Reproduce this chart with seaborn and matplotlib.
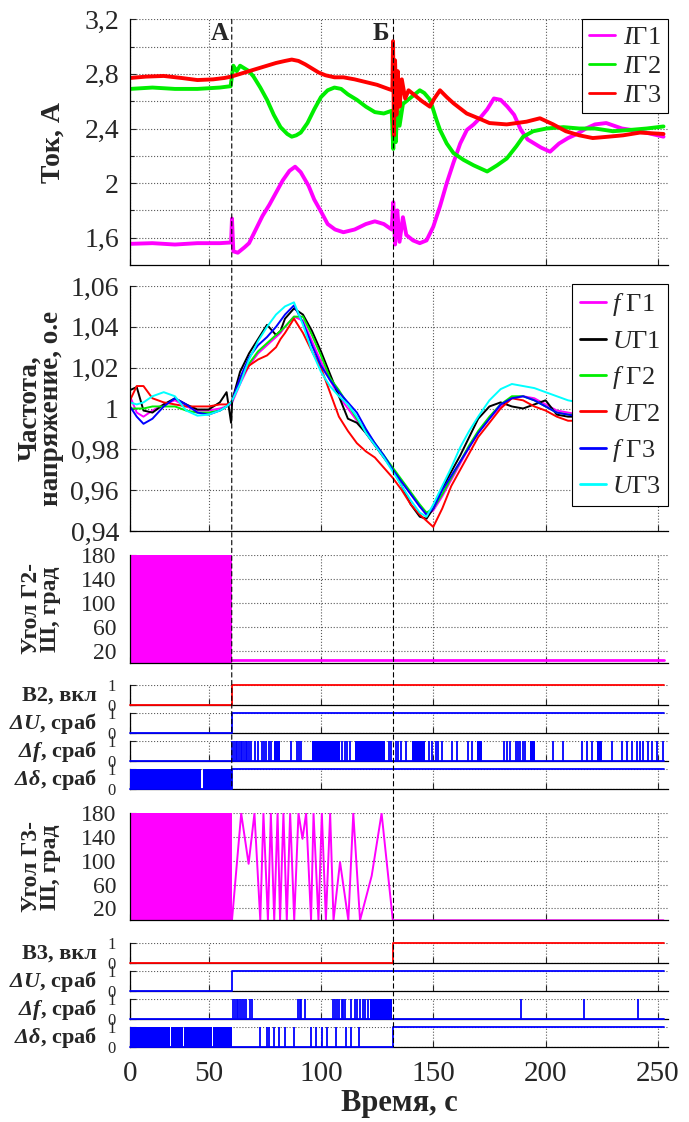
import numpy as np
import pandas as pd
import matplotlib
matplotlib.use("Agg")
import matplotlib.pyplot as plt
from matplotlib.patches import ConnectionPatch
import seaborn as sns

sns.set_theme(style="ticks", rc={"axes.edgecolor": "black", "axes.linewidth": 0.9})
plt.rcParams["font.family"] = ["Liberation Serif", "DejaVu Serif"]
plt.rcParams["mathtext.fontset"] = "custom"
plt.rcParams["mathtext.rm"] = "Liberation Serif"
plt.rcParams["mathtext.it"] = "Liberation Serif:italic"
plt.rcParams["mathtext.bf"] = "Liberation Serif:bold:italic"

### data

event_A = 60.3
event_B = 132.3

x_ticks = [15, 50, 100, 150, 200, 250]
x_ticklabels = ["0", "50", "100", "150", "200", "250"]

# currents, A
t_i1 = [15, 25, 35, 45, 55, 60, 60.4, 61, 63, 66, 68, 71, 74, 77, 80, 83, 86, 88.5, 91, 94.5, 97,
        100.4, 103, 106.3, 110, 115, 120, 124, 128, 131.5, 132.2, 133, 134, 135, 136.5, 138, 141,
        144, 147, 150, 153, 156, 159, 162, 165, 168, 171, 174, 177, 180, 183, 186, 189, 192, 195,
        198, 202, 206, 210, 214, 218, 222, 227, 234, 242, 252.5]
i_g1 = [1.555, 1.56, 1.55, 1.56, 1.56, 1.565, 1.74, 1.50, 1.49, 1.53, 1.56, 1.66, 1.76, 1.84, 1.93,
        2.02, 2.09, 2.12, 2.08, 1.98, 1.88, 1.78, 1.70, 1.66, 1.64, 1.66, 1.70, 1.72, 1.70, 1.66,
        1.86, 1.55, 1.80, 1.57, 1.75, 1.62, 1.58, 1.56, 1.58, 1.68, 1.83, 2.00, 2.15, 2.29, 2.39,
        2.43, 2.48, 2.54, 2.62, 2.61, 2.56, 2.50, 2.39, 2.32, 2.29, 2.26, 2.23, 2.29, 2.33, 2.36,
        2.40, 2.43, 2.44, 2.40, 2.38, 2.34]

t_i2 = [15, 25, 35, 45, 55, 59.8, 61, 62.5, 64, 66, 68, 70, 73, 76, 79, 82, 85, 87, 89, 91, 94, 97,
        100, 103, 106, 109, 112, 116, 120, 124, 128, 131.5, 132.2, 132.7, 133.3, 134, 135, 136.5,
        138, 141, 144, 146, 148.6, 151.5, 153, 156, 159, 163.5, 168, 174, 178.4, 182.7, 187, 190,
        194.5, 200.4, 208, 215, 222, 230, 238, 245, 252.5]
i_g2 = [2.69, 2.70, 2.69, 2.69, 2.70, 2.71, 2.86, 2.82, 2.86, 2.84, 2.82, 2.78, 2.70, 2.61, 2.50,
        2.41, 2.36, 2.34, 2.35, 2.37, 2.44, 2.54, 2.63, 2.68, 2.70, 2.69, 2.65, 2.61, 2.56, 2.52,
        2.51, 2.53, 2.25, 2.60, 2.30, 2.55, 2.42, 2.58, 2.60, 2.64, 2.68, 2.66, 2.61, 2.46, 2.39,
        2.29, 2.22, 2.17, 2.13, 2.085, 2.13, 2.18, 2.27, 2.34, 2.38, 2.40, 2.41, 2.40, 2.40, 2.38,
        2.39, 2.40, 2.415]

t_i3 = [15, 22, 30, 38, 45, 52, 57, 60, 64, 68, 72, 76, 80, 84, 87, 90, 93, 96, 99, 102, 106, 110,
        115, 120, 125, 130, 131.8, 132.1, 132.5, 133, 133.6, 134.2, 135, 136, 137.5, 139, 142, 145,
        148.5, 150.5, 153, 156, 159, 164.9, 170.8, 175, 182.7, 191.5, 197.5, 203.4, 209, 215, 221,
        228, 234.5, 242, 252.5]
i_g3 = [2.77, 2.78, 2.785, 2.77, 2.755, 2.76, 2.77, 2.78, 2.80, 2.82, 2.84, 2.86, 2.88, 2.895, 2.905,
        2.895, 2.87, 2.84, 2.81, 2.79, 2.775, 2.775, 2.76, 2.74, 2.72, 2.69, 2.68, 3.04, 2.35, 2.90,
        2.50, 2.82, 2.56, 2.76, 2.62, 2.68, 2.64, 2.60, 2.56, 2.62, 2.68, 2.63, 2.585, 2.51, 2.47,
        2.44, 2.43, 2.45, 2.475, 2.43, 2.38, 2.35, 2.33, 2.34, 2.35, 2.37, 2.36]

i_labels = ["$I$Г1", "$I$Г2", "$I$Г3"]
i_colors = ["#ff00ff", "#00ee00", "#ff0000"]
i_ticks = [1.6, 2.0, 2.4, 2.8, 3.2]
i_ticklabels = ["1,6", "2", "2,4", "2,8", "3,2"]
i_minor = [1.8, 2.2, 2.6, 3.0]

# frequency / voltage, p.u.
t_fu = [15, 18, 21, 25, 30, 35, 40, 45, 50, 55, 58, 60, 60.5, 64, 68, 72, 76, 80, 82, 84, 88, 92, 96,
        100, 104, 108, 112, 116, 120, 124, 128, 132, 136, 140, 144, 147, 150, 154, 158, 162, 166,
        170, 175, 180, 185, 190, 195, 200, 205, 210, 215, 220, 230, 240, 252.5]
f_g1 = [1.006, 0.998, 0.996, 0.999, 1.002, 1.004, 1.001, 0.999, 0.999, 1.000, 1.001, 1.002, 1.003,
        1.012, 1.021, 1.027, 1.031, 1.035, 1.037, 1.040, 1.045, 1.043, 1.033, 1.023, 1.014, 1.006,
        1.000, 0.994, 0.988, 0.982, 0.976, 0.970, 0.964, 0.958, 0.952, 0.948, 0.950, 0.957, 0.965,
        0.973, 0.981, 0.988, 0.995, 1.001, 1.005, 1.006, 1.005, 1.002, 0.999, 0.998, 0.997, 0.997,
        0.997, 0.997, 0.998]
u_g1 = [1.009, 1.0105, 0.999, 0.998, 1.002, 1.005, 1.002, 0.9995, 0.9995, 1.003, 1.008, 0.993, 1.004,
        1.018, 1.027, 1.034, 1.041, 1.036, 1.038, 1.044, 1.049, 1.046, 1.038, 1.028, 1.017, 1.006,
        0.995, 0.993, 0.988, 0.982, 0.976, 0.970, 0.962, 0.953, 0.947, 0.946, 0.951, 0.961, 0.969,
        0.977, 0.986, 0.995, 1.001, 1.003, 1.001, 1.000, 1.002, 1.004, 0.997, 0.996, 0.996, 0.995,
        0.995, 0.996, 0.996]
f_g2 = [1.000, 1.000, 1.000, 1.001, 1.001, 1.001, 0.999, 0.998, 0.998, 0.999, 1.001, 1.003, 1.004,
        1.013, 1.022, 1.028, 1.032, 1.036, 1.038, 1.040, 1.045, 1.045, 1.036, 1.026, 1.015, 1.009,
        1.002, 0.995, 0.989, 0.983, 0.977, 0.971, 0.965, 0.959, 0.953, 0.949, 0.951, 0.958, 0.966,
        0.974, 0.982, 0.989, 0.996, 1.002, 1.006, 1.006, 1.004, 1.001, 0.998, 0.997, 0.997, 0.997,
        0.997, 0.997, 0.998]
u_g2 = [1.004, 1.011, 1.011, 1.005, 1.003, 1.002, 1.001, 1.001, 1.001, 1.002, 1.002, 1.003, 1.004,
        1.014, 1.021, 1.024, 1.026, 1.030, 1.034, 1.037, 1.044, 1.037, 1.028, 1.020, 1.008, 0.996,
        0.989, 0.983, 0.979, 0.976, 0.971, 0.966, 0.960, 0.953, 0.948, 0.945, 0.942, 0.951, 0.962,
        0.970, 0.978, 0.986, 0.993, 1.000, 1.005, 1.004, 1.001, 0.999, 0.996, 0.994, 0.994, 0.994,
        0.994, 0.994, 0.995]
f_g3 = [1.001, 0.996, 0.9925, 0.995, 1.001, 1.005, 1.002, 0.998, 0.997, 0.999, 1.001, 1.003, 1.004,
        1.015, 1.025, 1.031, 1.035, 1.040, 1.043, 1.046, 1.0505, 1.042, 1.031, 1.021, 1.014, 1.008,
        1.003, 0.998, 0.990, 0.983, 0.977, 0.970, 0.964, 0.958, 0.952, 0.948, 0.951, 0.960, 0.967,
        0.974, 0.981, 0.988, 0.995, 1.002, 1.005, 1.006, 1.004, 1.001, 0.998, 0.997, 0.996, 0.996,
        0.996, 0.997, 0.998]
u_g3 = [1.003, 1.002, 1.003, 1.006, 1.008, 1.006, 0.999, 0.9965, 0.997, 0.999, 1.001, 1.003, 1.004,
        1.012, 1.024, 1.033, 1.040, 1.046, 1.048, 1.050, 1.052, 1.041, 1.028, 1.018, 1.011, 1.006,
        1.002, 0.996, 0.988, 0.982, 0.976, 0.969, 0.962, 0.955, 0.949, 0.947, 0.953, 0.962, 0.971,
        0.981, 0.989, 0.996, 1.004, 1.0095, 1.012, 1.011, 1.010, 1.008, 1.006, 1.004, 1.003, 1.003,
        1.003, 1.002, 1.002]

fu_labels = ["$f$ Г1", "$U$Г1", "$f$ Г2", "$U$Г2", "$f$ Г3", "$U$Г3"]
fu_colors = ["#ff00ff", "#000000", "#00ee00", "#ff0000", "#0000ff", "#00ffff"]
fu_ticks = [0.94, 0.96, 0.98, 1.00, 1.02, 1.04, 1.06]
fu_ticklabels = ["0,94", "0,96", "0,98", "1", "1,02", "1,04", "1,06"]

# angles, deg
ang_ticks = [20, 60, 100, 140, 180]
g2_dense = (15, event_A)           # angle runs 0..180 too fast to resolve
g2_after_t = [event_A, 252.5]
g2_after_deg = [5, 5]
g3_dense = (15, event_A)
g3_t = [60.4, 64.5, 67.8, 70.4, 73.0, 74.4, 76.4, 77.7, 79.2, 80.7, 81.8, 83.3, 84.8, 86.3, 88.1,
        90.0, 91.8, 93.4, 95.6, 96.7, 98.9, 100.4, 102.2, 104.1, 105.6, 108.5, 112.2, 114.4, 117.4,
        122.6, 127.0, 132.0, 252.5]
g3_deg = [0, 180, 95, 180, 0, 180, 0, 180, 0, 180, 0, 180, 0, 180, 0, 180, 137, 180, 0, 180, 0, 180,
          0, 180, 0, 98, 0, 180, 0, 75, 180, 0, 0]

# binary signals
b2_step_t = [15, event_A, 252.5]
b2_step_v = [0, 1, 1]
du2_step_t = [15, event_A, 252.5]
du2_step_v = [0, 1, 1]
df2_pulses = [60.6, 61.3, 62.0, 62.6, 63.5, 64.3, 65.0, 65.8, 66.5, 67.3, 68.0, 68.8, 70.8, 71.8,
              73.8, 74.6, 75.6, 76.8, 77.8, 86.5, 89.5, 90.3, 91.2, 109.5, 110.5, 111.8, 112.8,
              130.2, 131.3, 133.2, 134.5, 135.8, 137.8, 148.0, 149.5, 151.0, 152.0, 154.0, 158.2,
              160.7, 165.6, 167.1, 181.6, 182.7, 184.1, 186.7, 187.6, 188.6, 189.8, 190.8, 203.4,
              207.8, 216.0, 218.3, 220.5, 229.4, 233.9, 236.1, 238.6, 240.6, 242.0, 243.5, 245.5,
              247.2, 249.5, 252.4]
df2_blocks = [(79.3, 81.8), (95.9, 108.5), (115.2, 128.6), (140.4, 146.3), (169.3, 171.9),
              (193.0, 195.3), (222.7, 225.0)]
dd2_step_t = [15, event_A, 252.5]
dd2_step_v = [0, 1, 1]
dd2_blocks = [(15, 46.8), (47.3, event_A)]

b3_step_t = [15, event_B, 252.5]
b3_step_v = [0, 1, 1]
du3_step_t = [15, event_A, 252.5]
du3_step_v = [0, 1, 1]
df3_pulses = [61.0, 61.8, 62.5, 63.3, 64.0, 64.8, 65.8, 66.6, 68.6, 69.3, 89.7, 90.5, 91.2, 92.7,
              105.3, 106.2, 107.2, 108.1, 109.2, 110.0, 110.9, 113.5, 115.0, 116.2, 117.4, 118.6,
              119.8, 121.0, 188.9, 217.2, 241.0]
df3_blocks = [(121.8, 131.8)]
dd3_step_t = [15, event_B, 252.5]
dd3_step_v = [0, 1, 1]
dd3_pulses = [72.7, 76.0, 77.0, 79.0, 81.2, 84.2, 87.9, 95.6, 97.6, 100.6, 102.8, 106.5, 111.0,
              113.2, 117.0]
dd3_blocks = [(15, 32.8), (33.2, 38.6), (39.0, 51.4), (51.8, event_A)]

bin_labels_2 = ["В2, вкл", r"$\mathbf{\Delta U}$, сраб", r"$\mathbf{\Delta f}$, сраб",
                r"$\mathbf{\Delta \delta}$, сраб"]
bin_labels_3 = ["В3, вкл", r"$\mathbf{\Delta U}$, сраб", r"$\mathbf{\Delta f}$, сраб",
                r"$\mathbf{\Delta \delta}$, сраб"]

### figure

W, H = 689, 1122
fig = plt.figure(figsize=(W / 100, H / 100), dpi=100)


def add_ax(top, bottom):
    return fig.add_axes([130 / W, 1 - bottom / H, 538 / W, (bottom - top) / H])


def style(ax, ysize=20, ypad=8):
    ax.set_xlim(15, 254.5)
    ax.set_xticks(x_ticks)
    ax.set_xticklabels([])
    sns.despine(ax=ax)
    ax.grid(True, which="both", ls=":", color="0.35", lw=0.8)
    ax.set_axisbelow(True)
    ax.tick_params(direction="in", length=4, width=0.8, labelsize=ysize, pad=ypad)
    ax.tick_params(which="minor", direction="in", length=3, width=0.8)
    ax.set_xlabel("")


def draw_binary(ax, step_t, step_v, color, pulses=(), blocks=()):
    ax.plot(step_t, step_v, drawstyle="steps-post", color=color, lw=1.3, clip_on=False, zorder=3)
    if len(pulses):
        ax.vlines(pulses, 0, 1, color=color, lw=1.3, zorder=3)
    for s, e in blocks:
        ax.fill_between([s, e], 0, 1, color=color, lw=0, zorder=3)


# top: currents
ax_i = add_ax(19.3, 265)
for t, v, lab, c in zip([t_i1, t_i2, t_i3], [i_g1, i_g2, i_g3], i_labels, i_colors):
    sns.lineplot(x=t, y=v, ax=ax_i, color=c, lw=2.8, label=lab, estimator=None, sort=False)
style(ax_i)
ax_i.set_ylim(1.4, 3.2)
ax_i.set_yticks(i_ticks)
ax_i.set_yticklabels(i_ticklabels)
ax_i.set_yticks(i_minor, minor=True)
ax_i.set_ylabel("Ток, А", fontsize=20, fontweight="bold")
ax_i.yaxis.set_label_coords(-0.12, 0.5)
leg = ax_i.legend(loc="upper right", bbox_to_anchor=(1, 1), borderaxespad=0, fontsize=19,
                  handlelength=1.0, handletextpad=0.3, labelspacing=0.2, borderpad=0.25,
                  fancybox=False, framealpha=1, edgecolor="black")
leg.get_frame().set_linewidth(0.8)
for line in leg.get_lines():
    line.set_linewidth(2)
ax_i.annotate("А", xy=(event_A, 3.2), xytext=(-2, -2), textcoords="offset points",
              ha="right", va="top", fontsize=18, fontweight="bold")
ax_i.annotate("Б", xy=(event_B, 3.2), xytext=(-3, -2), textcoords="offset points",
              ha="right", va="top", fontsize=18, fontweight="bold")

# frequency / voltage
ax_fu = add_ax(286, 531)
fu_df = pd.concat([pd.DataFrame({"t": t_fu, "v": vals, "series": lab})
                   for vals, lab in zip([f_g1, u_g1, f_g2, u_g2, f_g3, u_g3], fu_labels)])
sns.lineplot(data=fu_df, x="t", y="v", hue="series", hue_order=fu_labels,
             palette=dict(zip(fu_labels, fu_colors)), lw=1.4, estimator=None, sort=False, ax=ax_fu)
style(ax_fu)
ax_fu.set_ylim(0.94, 1.06)
ax_fu.set_yticks(fu_ticks)
ax_fu.set_yticklabels(fu_ticklabels)
ax_fu.set_ylabel("Частота,\nнапряжение, о.е", fontsize=19.5, fontweight="bold", linespacing=0.85)
ax_fu.yaxis.set_label_coords(-0.122, 0.5)
leg = ax_fu.legend(loc="upper right", bbox_to_anchor=(1, 1.01), borderaxespad=0, fontsize=19,
                   handlelength=1.0, handletextpad=0.2, labelspacing=0.42, borderpad=0.3,
                   fancybox=False, framealpha=1, edgecolor="black", title=None)
leg.get_frame().set_linewidth(0.8)
for line in leg.get_lines():
    line.set_linewidth(2)

# angle G2
ax_g2 = add_ax(555, 662.7)
ax_g2.fill_between(list(g2_dense), 0, 180, color="#ff00ff", lw=0)
sns.lineplot(x=g2_after_t, y=g2_after_deg, ax=ax_g2, color="#ff00ff", lw=2, estimator=None)
style(ax_g2, ysize=17, ypad=10)
ax_g2.set_ylim(0, 180)
ax_g2.set_yticks(ang_ticks)
ax_g2.set_ylabel("Угол Г2-\nШ, град", fontsize=17, fontweight="bold", linespacing=0.9)
ax_g2.yaxis.set_label_coords(-0.128, 0.5)

# breaker 2 group
b2_bounds = [(685, 704.7), (713, 732.7), (741, 760.7), (768.7, 788.7)]
b2_axes = [add_ax(tp, bt) for tp, bt in b2_bounds]
draw_binary(b2_axes[0], b2_step_t, b2_step_v, "#ff0000")
draw_binary(b2_axes[1], du2_step_t, du2_step_v, "#0000ff")
draw_binary(b2_axes[2], [15, 252.5], [0, 0], "#0000ff", df2_pulses, df2_blocks)
draw_binary(b2_axes[3], dd2_step_t, dd2_step_v, "#0000ff", (), dd2_blocks)

# angle G3
ax_g3 = add_ax(813.3, 920.3)
ax_g3.fill_between(list(g3_dense), 0, 180, color="#ff00ff", lw=0)
sns.lineplot(x=g3_t, y=g3_deg, ax=ax_g3, color="#ff00ff", lw=1.4, estimator=None, sort=False)
style(ax_g3, ysize=17, ypad=10)
ax_g3.set_ylim(0, 180)
ax_g3.set_yticks(ang_ticks)
ax_g3.set_ylabel("Угол Г3-\nШ, град", fontsize=17, fontweight="bold", linespacing=0.9)
ax_g3.yaxis.set_label_coords(-0.128, 0.5)

# breaker 3 group
b3_bounds = [(942.7, 962.7), (970.7, 990.7), (998.7, 1018.7), (1026.7, 1046.7)]
b3_axes = [add_ax(tp, bt) for tp, bt in b3_bounds]
draw_binary(b3_axes[0], b3_step_t, b3_step_v, "#ff0000")
draw_binary(b3_axes[1], du3_step_t, du3_step_v, "#0000ff")
draw_binary(b3_axes[2], [15, 252.5], [0, 0], "#0000ff", df3_pulses, df3_blocks)
draw_binary(b3_axes[3], dd3_step_t, dd3_step_v, "#0000ff", dd3_pulses, dd3_blocks)

for axes, labels in [(b2_axes, bin_labels_2), (b3_axes, bin_labels_3)]:
    for ax, lab in zip(axes, labels):
        style(ax, ysize=12, ypad=10)
        ax.set_ylim(0, 1)
        ax.set_yticks([0, 1])
        ax.set_yticklabels(["0", "1"])
        ax.set_ylabel(lab, rotation=0, ha="right", va="center", fontsize=16, fontweight="bold")
        ax.yaxis.set_label_coords(-0.062, 0.45)

ax_last = b3_axes[-1]
ax_last.set_xticklabels(x_ticklabels)
ax_last.tick_params(axis="x", labelsize=21, pad=10)
ax_last.set_xlabel("Время, с", fontsize=22, fontweight="bold", labelpad=2)

# event markers A and B
for t_ev, ax_end in [(event_A, b2_axes[-1]), (event_B, b3_axes[-1])]:
    con = ConnectionPatch(xyA=(t_ev, 3.2), coordsA=ax_i.transData, xyB=(t_ev, 0),
                          coordsB=ax_end.transData, color="black", lw=0.8,
                          linestyle=(0, (4, 3)), zorder=5)
    fig.add_artist(con)

fig.savefig("out.png", dpi=100)
